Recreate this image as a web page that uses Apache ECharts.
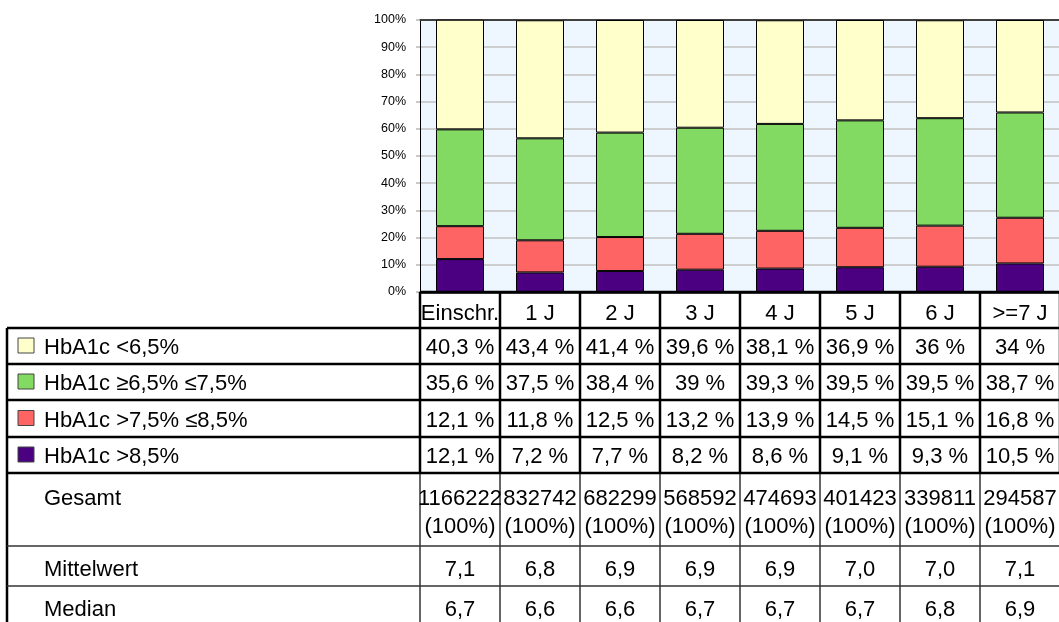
<!DOCTYPE html>
<html><head><meta charset="utf-8">
<script src="https://cdn.jsdelivr.net/npm/echarts@6/dist/echarts.min.js"></script>
<style>html,body{margin:0;padding:0;background:#fff}#c{width:1059px;height:622px}</style>
</head><body><div id="c"></div>
<script>
// ---- data ----
const categories = ['Einschr.', '1 J', '2 J', '3 J', '4 J', '5 J', '6 J', '>=7 J'];
const seriesNames = ['HbA1c <6,5%', 'HbA1c \u22656,5% \u22647,5%', 'HbA1c >7,5% \u22648,5%', 'HbA1c >8,5%'];
const lt65   = [40.3, 43.4, 41.4, 39.6, 38.1, 36.9, 36, 34];
const r65_75 = [35.6, 37.5, 38.4, 39, 39.3, 39.5, 39.5, 38.7];
const r75_85 = [12.1, 11.8, 12.5, 13.2, 13.9, 14.5, 15.1, 16.8];
const gt85   = [12.1, 7.2, 7.7, 8.2, 8.6, 9.1, 9.3, 10.5];
const gesamt     = [1166222, 832742, 682299, 568592, 474693, 401423, 339811, 294587];
const mittelwert = [7.1, 6.8, 6.9, 6.9, 6.9, 7.0, 7.0, 7.1];
const median     = [6.7, 6.6, 6.6, 6.7, 6.7, 6.7, 6.8, 6.9];
const yTicks = [0, 10, 20, 30, 40, 50, 60, 70, 80, 90, 100];

// ---- style ----
const FONT = '"Liberation Sans", Arial, sans-serif';
const FS = 22;
const colors = ['#FFFFCC', '#82DA63', '#FF6464', '#4B0082'];
const seriesValues = [lt65, r65_75, r75_85, gt85];

const chart = echarts.init(document.getElementById('c'), null, {renderer: 'canvas'});

const stackOrder = [3, 2, 1, 0]; // bottom to top
chart.setOption({
  animation: false,
  grid: {left: 420, top: 20, width: 640, height: 272, show: true, backgroundColor: '#EEF6FF',
         borderWidth: 0, containLabel: false, outerBoundsMode: 'none'},
  xAxis: [
    {type: 'category', data: categories, position: 'bottom',
     axisLine: {show: true, lineStyle: {color: '#000', width: 2.5}},
     axisTick: {show: false},
     axisLabel: {fontSize: FS, fontFamily: FONT, color: '#000', margin: 22, verticalAlign: 'middle', interval: 0},
     splitLine: {show: false}},
    {type: 'category', data: categories, position: 'top',
     axisLine: {show: true, lineStyle: {color: '#404040', width: 2}},
     axisTick: {show: false}, axisLabel: {show: false}, splitLine: {show: false}}
  ],
  yAxis: {type: 'value', min: yTicks[0], max: yTicks[yTicks.length - 1], interval: yTicks[1] - yTicks[0],
    axisLine: {show: true, lineStyle: {color: '#000', width: 1}},
    axisTick: {show: true, length: 4, lineStyle: {color: '#B8B8B8', width: 1.5}},
    axisLabel: {formatter: '{value}%', fontSize: 12.5, fontFamily: FONT, color: '#000', margin: 14},
    splitLine: {show: true, lineStyle: {color: '#C0C0C0', width: 1.5}}},
  series: stackOrder.map(i => ({
    name: seriesNames[i], type: 'bar', stack: 'all', xAxisIndex: 0,
    data: seriesValues[i], barWidth: '60%',
    itemStyle: {color: colors[i], borderColor: '#000', borderWidth: 1}
  }))
});

// ---- data table ----
const cx = categories.map(c => chart.convertToPixel({xAxisIndex: 0}, c));
const bw = cx[1] - cx[0];
const xL = cx[0] - bw / 2;
const xR = cx[cx.length - 1] + bw / 2;
const y0 = chart.convertToPixel({yAxisIndex: 0}, 0);
const rowH = [36, 36, 36, 37, 36, 73, 40, 40];
const rb = [y0];
rowH.forEach(h => rb.push(rb[rb.length - 1] + h));
const tableLeft = 7;
const els = [];
function line(x1, y1, x2, y2, thick) {
  els.push({type: 'line', z: 100, shape: {x1, y1, x2, y2},
    style: {stroke: thick ? '#000' : '#333', lineWidth: thick ? 2.5 : 1.5}});
}
function text(t, x, y, align) {
  els.push({type: 'text', z: 101, style: {text: t, x, y, fill: '#000', fontSize: FS, fontFamily: FONT,
    align: align, textAlign: align, verticalAlign: 'middle', textVerticalAlign: 'middle'}});
}
// verticals
for (let i = 0; i <= categories.length; i++) {
  const x = xL + i * bw;
  line(x, rb[0], x, rb[5], true);
  line(x, rb[5], x, rb[8], false);
}
line(tableLeft, rb[1], tableLeft, rb[8], true);
// horizontals
line(xL, rb[0], xR, rb[0], true);
for (let r = 1; r <= 5; r++) line(tableLeft, rb[r], xR, rb[r], true);
line(tableLeft, rb[6], xR, rb[6], false);
line(tableLeft, rb[7], xR, rb[7], false);

const pct = v => String(v).replace('.', ',') + ' %';
const dec = v => v.toFixed(1).replace('.', ',');
for (let s = 0; s < 4; s++) {
  const yc = (rb[s + 1] + rb[s + 2]) / 2 + 2;
  els.push({type: 'rect', z: 101, shape: {x: 18, y: yc - 10, width: 16, height: 15},
    style: {fill: colors[s], stroke: '#444', lineWidth: 1}});
  text(seriesNames[s], 44, yc, 'left');
  seriesValues[s].forEach((v, i) => text(pct(v), cx[i], yc, 'center'));
}
// Gesamt
text('Gesamt', 44, rb[5] + 26, 'left');
gesamt.forEach((v, i) => { text(String(v), cx[i], rb[5] + 26, 'center'); text('(100%)', cx[i], rb[5] + 54, 'center'); });
// Mittelwert / Median
const ym = (rb[6] + rb[7]) / 2 + 4, yd = (rb[7] + rb[8]) / 2 + 4;
text('Mittelwert', 44, ym, 'left');
mittelwert.forEach((v, i) => text(dec(v), cx[i], ym, 'center'));
text('Median', 44, yd, 'left');
median.forEach((v, i) => text(dec(v), cx[i], yd, 'center'));

chart.setOption({graphic: {elements: els}});
</script></body></html>
